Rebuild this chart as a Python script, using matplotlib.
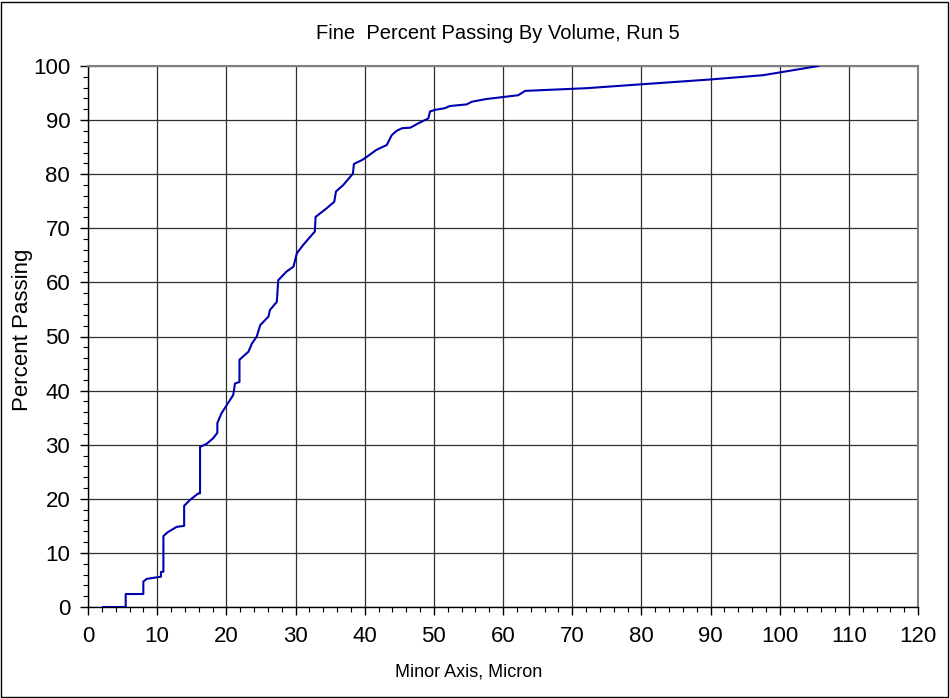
import matplotlib
matplotlib.use("Agg")
import matplotlib.pyplot as plt
from matplotlib.ticker import MultipleLocator
from matplotlib.patches import Rectangle

# --- DATA ---
minor_axis = [2.2, 5.45, 5.45, 8.0, 8.0, 8.5, 10.55, 10.55, 10.9, 10.9, 11.5, 12.8,
              13.9, 13.9, 14.75, 15.95, 16.2, 16.2, 17.2, 18.1, 18.7, 18.7, 19.3,
              20.05, 21.0, 21.25, 21.9, 21.9, 23.2, 23.7, 24.4, 24.9, 26.1, 26.3,
              27.3, 27.5, 28.7, 29.7, 30.2, 31.1, 31.9, 32.8, 32.9, 34.5, 35.6,
              35.85, 36.9, 37.9, 38.3, 38.45, 39.6, 40.3, 41.7, 43.2, 43.9, 44.6,
              45.4, 46.6, 47.75, 49.2, 49.45, 50.2, 51.6, 52.3, 54.75, 55.5, 57.6,
              59.6, 62.2, 63.2, 72.1, 79.8, 89.9, 97.6, 105.6]
pct_passing = [0.0, 0.0, 2.4, 2.4, 4.7, 5.2, 5.6, 6.5, 6.5, 13.1, 13.8, 14.8,
               15.0, 18.7, 19.8, 21.0, 21.0, 29.6, 30.2, 31.2, 32.2, 34.0, 35.8,
               37.3, 39.2, 41.3, 41.6, 45.7, 47.2, 48.7, 50.0, 52.1, 53.7, 54.9,
               56.4, 60.4, 62.0, 62.9, 65.4, 66.9, 68.1, 69.4, 72.1, 73.7, 74.9,
               76.8, 78.0, 79.5, 80.1, 81.9, 82.6, 83.2, 84.5, 85.4, 87.2, 88.0,
               88.5, 88.6, 89.4, 90.3, 91.6, 91.9, 92.2, 92.6, 92.9, 93.4, 93.9,
               94.2, 94.6, 95.4, 95.9, 96.6, 97.5, 98.3, 100.0]

TITLE = "Fine  Percent Passing By Volume, Run 5"
XLABEL = "Minor Axis, Micron"
YLABEL = "Percent Passing"

plt.rcParams['font.family'] = ['Liberation Sans', 'DejaVu Sans']

fig = plt.figure(figsize=(9.5, 6.98), dpi=100)
ax = fig.add_axes([88 / 950, 1 - 607 / 698, 830 / 950, 541 / 698])

ax.plot(minor_axis, pct_passing, color='#0000B0', lw=1.5, zorder=3)

ax.set_xlim(0, 120)
ax.set_ylim(0, 100)
ax.xaxis.set_major_locator(MultipleLocator(10))
ax.xaxis.set_minor_locator(MultipleLocator(2))
ax.yaxis.set_major_locator(MultipleLocator(10))
ax.yaxis.set_minor_locator(MultipleLocator(2))
ax.tick_params(which='major', direction='out', length=5.8, width=1, labelsize=16)
ax.tick_params(axis='y', which='major', pad=7)
ax.tick_params(axis='x', which='major', pad=8)
ax.tick_params(which='minor', direction='out', length=3.6, width=0.8)
ax.grid(which='major', color='#303030', lw=0.9, zorder=1)

for side in ('top', 'right'):
    ax.spines[side].set_color('#808080')
    ax.spines[side].set_linewidth(1.5)
for side in ('left', 'bottom'):
    ax.spines[side].set_color('black')
    ax.spines[side].set_linewidth(1)

ax.set_xlabel(XLABEL, fontsize=13)
ax.set_ylabel(YLABEL, fontsize=16)
ax.xaxis.set_label_coords((469 - 88) / 830, (607 - 672) / 541)
ax.yaxis.set_label_coords((23 - 88) / 830, (607 - 330) / 541)
ax.xaxis.label.set_va('center')
ax.yaxis.label.set_va('center')
fig.text(498 / 950, 1 - 33.5 / 698, TITLE, ha='center', va='center', fontsize=14.5)

# outer chart border
fig.patches.append(Rectangle((1 / 950, 1 / 698), 947 / 950, 695 / 698,
                             transform=fig.transFigure, fill=False,
                             edgecolor='black', lw=1))

fig.savefig("out.png", dpi=100)
